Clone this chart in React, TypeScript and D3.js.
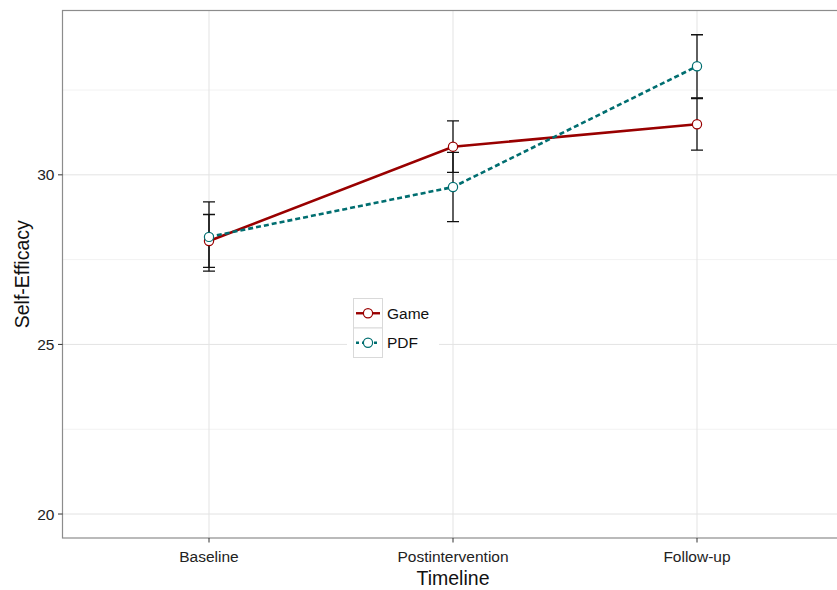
import React from "react";
import * as d3 from "d3";

const categories = ["Baseline", "Postintervention", "Follow-up"];
const gameMean = [28.05, 30.83, 31.49];
const gameLow = [27.27, 30.07, 30.73];
const gameHigh = [28.83, 31.59, 32.25];
const pdfMean = [28.17, 29.64, 33.2];
const pdfLow = [27.16, 28.62, 32.27];
const pdfHigh = [29.2, 30.66, 34.13];
const yTicks = [20, 25, 30];
const yMinor = [22.5, 27.5, 32.5];

const W = 837;
const H = 590;
const panel = { left: 62.5, top: 10.5, right: 843.5, bottom: 538 };

export default function App() {
  const x = d3.scalePoint<string>().domain(categories).range([209, 697]);
  const y = d3.scaleLinear().domain([19.293, 34.845]).range([panel.bottom, panel.top]);

  const series = [
    { name: "Game", mean: gameMean, low: gameLow, high: gameHigh, color: "#990000", dash: undefined as string | undefined },
    { name: "PDF", mean: pdfMean, low: pdfLow, high: pdfHigh, color: "#006e70", dash: "5,3" },
  ];

  const line = (vals: number[]) =>
    d3.line<number>().x((_, i) => x(categories[i])!).y((v) => y(v))(vals) || "";

  const font = "'Liberation Sans', Arial, sans-serif";

  return (
    <svg width={W} height={H} style={{ position: "absolute", left: 0, top: 0, fontFamily: font }}>
      <rect x={0} y={0} width={W} height={H} fill="#fff" />
      <defs>
        <clipPath id="pc">
          <rect x={panel.left} y={panel.top} width={panel.right - panel.left} height={panel.bottom - panel.top} />
        </clipPath>
      </defs>
      {/* grid */}
      {yMinor.map((v) => (
        <line key={"mn" + v} x1={panel.left} x2={panel.right} y1={y(v)} y2={y(v)} stroke="#f2f2f2" strokeWidth={1} />
      ))}
      {yTicks.map((v) => (
        <line key={"mj" + v} x1={panel.left} x2={panel.right} y1={y(v)} y2={y(v)} stroke="#e3e3e3" strokeWidth={1} />
      ))}
      {categories.map((c) => (
        <line key={"vx" + c} x1={x(c)} x2={x(c)} y1={panel.top} y2={panel.bottom} stroke="#e3e3e3" strokeWidth={1} />
      ))}
      <g clipPath="url(#pc)">
        {/* error bars */}
        {series.map((s) =>
          categories.map((c, i) => {
            const cx = x(c)!;
            return (
              <g key={s.name + c} stroke="#111" strokeWidth={1.3}>
                <line x1={cx} x2={cx} y1={y(s.low[i])} y2={y(s.high[i])} />
                <line x1={cx - 6} x2={cx + 6} y1={y(s.low[i])} y2={y(s.low[i])} />
                <line x1={cx - 6} x2={cx + 6} y1={y(s.high[i])} y2={y(s.high[i])} />
              </g>
            );
          })
        )}
        {/* lines */}
        {series.map((s) => (
          <path key={"l" + s.name} d={line(s.mean)} fill="none" stroke={s.color} strokeWidth={2.6} strokeDasharray={s.dash} />
        ))}
        {/* points */}
        {series.map((s) =>
          s.mean.map((v, i) => (
            <circle key={"p" + s.name + i} cx={x(categories[i])} cy={y(v)} r={4.6} fill="#fff" stroke={s.color} strokeWidth={1.2} />
          ))
        )}
      </g>
      {/* panel border */}
      <rect x={panel.left} y={panel.top} width={panel.right - panel.left} height={panel.bottom - panel.top} fill="none" stroke="#8c8c8c" strokeWidth={1.2} />
      {/* y axis */}
      {yTicks.map((v) => (
        <g key={"yt" + v}>
          <line x1={panel.left - 4.5} x2={panel.left} y1={y(v)} y2={y(v)} stroke="#333" strokeWidth={1} />
          <text x={panel.left - 8} y={y(v)} dy="0.36em" textAnchor="end" fontSize={15.5} fill="#222">
            {v}
          </text>
        </g>
      ))}
      {/* x axis */}
      {categories.map((c) => (
        <g key={"xt" + c}>
          <line x1={x(c)} x2={x(c)} y1={panel.bottom} y2={panel.bottom + 4.5} stroke="#333" strokeWidth={1} />
          <text x={x(c)} y={panel.bottom + 19} dy="0.35em" textAnchor="middle" fontSize={15.5} fill="#222">
            {c}
          </text>
        </g>
      ))}
      <text x={453} y={578} dy="0.35em" textAnchor="middle" fontSize={19.5} fill="#111">
        Timeline
      </text>
      <text transform={`translate(22,${(panel.top + panel.bottom) / 2}) rotate(-90)`} dy="0.35em" textAnchor="middle" fontSize={19.5} fill="#111">
        Self-Efficacy
      </text>
      {/* legend */}
      <g>
        <rect x={347} y={297} width={92} height={62} fill="#fff" />
        {series.map((s, i) => {
          const ky = 298.5 + i * 29.5;
          return (
            <g key={"lg" + s.name}>
              <rect x={353.5} y={ky} width={29} height={29.5} fill="#fff" stroke="#d9d9d9" strokeWidth={1} />
              <line x1={356} x2={380} y1={ky + 14.75} y2={ky + 14.75} stroke={s.color} strokeWidth={2.4} strokeDasharray={s.dash ? "3,3" : undefined} />
              <circle cx={368} cy={ky + 14.75} r={4.6} fill="#fff" stroke={s.color} strokeWidth={1.2} />
              <text x={387} y={ky + 14.75} dy="0.36em" fontSize={15.5} fill="#111">
                {s.name}
              </text>
            </g>
          );
        })}
      </g>
    </svg>
  );
}
